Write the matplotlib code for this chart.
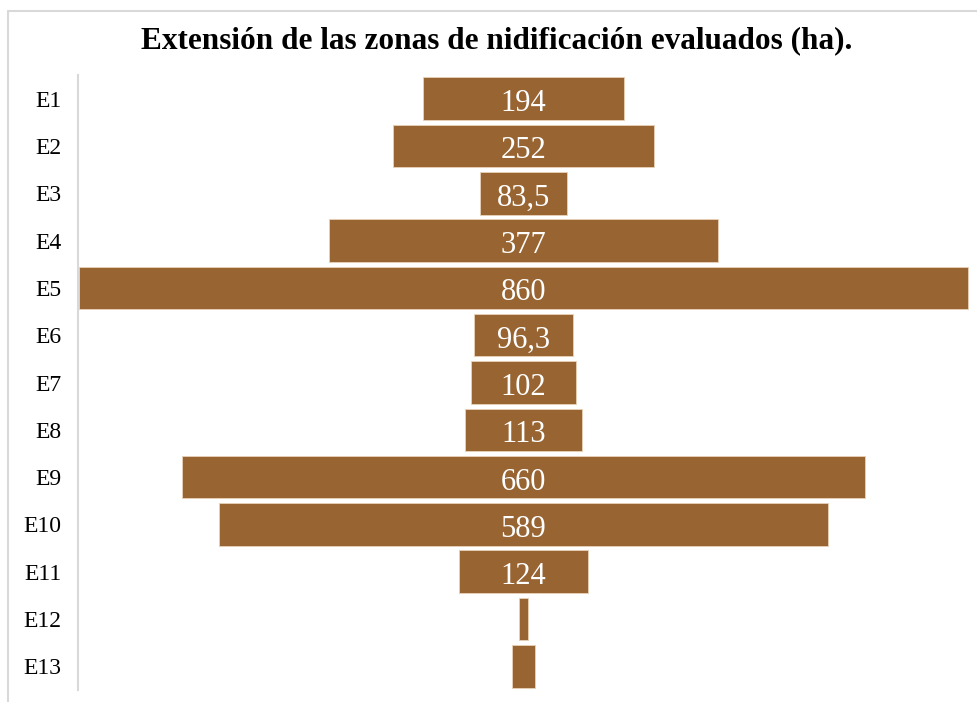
import matplotlib
matplotlib.use("Agg")
import matplotlib.pyplot as plt
from matplotlib.patches import Rectangle

# ---------------- Data ----------------
zonas = ["E1", "E2", "E3", "E4", "E5", "E6", "E7", "E8", "E9", "E10", "E11", "E12", "E13"]
hectareas = [194, 252, 83.5, 377, 860, 96.3, 102, 113, 660, 589, 124, 8, 22]
etiquetas = ["194", "252", "83,5", "377", "860", "96,3", "102", "113", "660", "589", "124", "", ""]

titulo = "Extensión de las zonas de nidificación evaluados (ha)."
color_barra = "#976432"

# ---------------- Figure ----------------
fig = plt.figure(figsize=(9.77, 7.02), dpi=100)
ax = fig.add_axes([78 / 977, 1 - 690 / 702, 891 / 977, (690 - 75) / 702])

y = list(range(len(zonas)))
izq = [-v / 2 for v in hectareas]
ax.barh(y, hectareas, left=izq, height=0.9, color=color_barra,
        edgecolor="#e8d2b8", linewidth=0.6)

for yi, txt in zip(y, etiquetas):
    if txt:
        ax.text(0, yi + 0.03, txt, ha="center", va="center_baseline", color="white",
                fontsize=22, family="Liberation Serif")

ax.set_xlim(-431, 431)
ax.set_ylim(len(zonas) - 0.5, -0.5)
ax.set_yticks(y)
ax.set_yticklabels(zonas, family="Liberation Serif", fontsize=17)
ax.tick_params(axis="y", length=0, pad=12)
ax.set_xticks([])
for s in ["top", "right", "bottom"]:
    ax.spines[s].set_visible(False)
ax.spines["left"].set_color("#d9d9d9")
ax.spines["left"].set_linewidth(1.5)

fig.text(497 / 977, 1 - 48 / 702, titulo, ha="center", va="baseline",
         fontsize=22.5, fontweight="bold", family="Liberation Serif")

# light border round the chart area
fig.patches.append(Rectangle((8 / 977, -0.05), 1.2, 1.05 - 11 / 702,
                             transform=fig.transFigure, fill=False,
                             edgecolor="#d9d9d9", linewidth=1.5))

fig.savefig("out.png", dpi=100)
